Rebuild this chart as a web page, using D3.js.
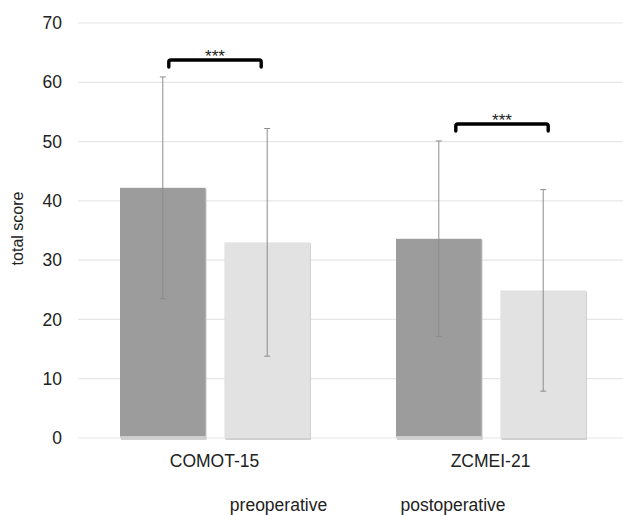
<!DOCTYPE html>
<html>
<head>
<meta charset="utf-8">
<script src="https://cdn.jsdelivr.net/npm/d3@7"></script>
<style>
  body { margin: 0; background: #fff; }
  svg text { font-family: "Liberation Sans", Arial, sans-serif; fill: #222; }
</style>
</head>
<body>
<svg id="chart" width="623" height="515"></svg>
<script>
// chart data
const categories = ["COMOT-15", "ZCMEI-21"];
const seriesNames = ["preoperative", "postoperative"];
const preMean = [42.2, 33.6];
const preSd = [18.7, 16.5];
const postMean = [33.0, 24.9];
const postSd = [19.2, 17.0];
const yTicks = [0, 10, 20, 30, 40, 50, 60, 70];
const sigLabels = ["***", "***"];

const colors = { preoperative: "#9c9c9c", postoperative: "#e2e2e2" };
const bracketShift = [0, 11];

const svg = d3.select("#chart");

const y = d3.scaleLinear().domain([0, 70]).range([438, 23]);
const x = d3.scaleBand().domain(categories).range([77, 629]);
const xSub = d3.scaleBand().domain(seriesNames).range([43, 233]).paddingInner(0.18);

const rows = categories.map((c, i) => ({
  cat: c,
  vals: [
    { s: "preoperative", m: preMean[i], sd: preSd[i] },
    { s: "postoperative", m: postMean[i], sd: postSd[i] }
  ]
}));

// grid lines
svg.append("g").selectAll("line").data(yTicks).join("line")
  .attr("x1", 78).attr("x2", 623)
  .attr("y1", d => y(d)).attr("y2", d => y(d))
  .attr("stroke", "#e6e6e6").attr("stroke-width", 1.2);

// y tick labels
svg.append("g").selectAll("text").data(yTicks).join("text")
  .attr("x", 62).attr("y", d => y(d)).attr("dy", "0.35em")
  .attr("text-anchor", "end").style("font-size", "17.5px")
  .text(d => d);

// y axis title
svg.append("text")
  .attr("transform", `translate(23,${y(35) - 2}) rotate(-90)`)
  .attr("text-anchor", "middle").style("font-size", "16px")
  .text("total score");

// bars
const groups = svg.append("g").selectAll("g").data(rows).join("g")
  .attr("transform", d => `translate(${x(d.cat)},0)`);

groups.selectAll("rect.shadow").data(d => d.vals).join("rect")
  .attr("class", "shadow")
  .attr("x", d => xSub(d.s) + 1).attr("width", xSub.bandwidth())
  .attr("y", d => y(d.m) + 1).attr("height", d => y(0) - y(d.m) + 1)
  .attr("fill", "#d0d0d0");

groups.selectAll("rect.bar").data(d => d.vals).join("rect")
  .attr("class", "bar")
  .attr("x", d => xSub(d.s)).attr("width", xSub.bandwidth())
  .attr("y", d => y(d.m)).attr("height", d => y(0) - y(d.m))
  .attr("fill", d => colors[d.s]);

groups.selectAll("line.base").data(d => d.vals.filter(v => v.s === "preoperative")).join("line")
  .attr("class", "base")
  .attr("x1", d => xSub(d.s)).attr("x2", d => xSub(d.s) + xSub.bandwidth())
  .attr("y1", y(0) - 1).attr("y2", y(0) - 1)
  .attr("stroke", "#fff").attr("stroke-width", 1);

// error bars
const err = groups.selectAll("g.err").data(d => d.vals).join("g").attr("class", "err");
err.append("line")
  .attr("x1", d => xSub(d.s) + xSub.bandwidth() / 2)
  .attr("x2", d => xSub(d.s) + xSub.bandwidth() / 2)
  .attr("y1", d => y(d.m - d.sd)).attr("y2", d => y(d.m + d.sd))
  .attr("stroke", "#8c8c8c").attr("stroke-width", 1);
["top", "bottom"].forEach(k => {
  err.append("line")
    .attr("x1", d => xSub(d.s) + xSub.bandwidth() / 2 - 3)
    .attr("x2", d => xSub(d.s) + xSub.bandwidth() / 2 + 3)
    .attr("y1", d => y(k === "top" ? d.m + d.sd : d.m - d.sd))
    .attr("y2", d => y(k === "top" ? d.m + d.sd : d.m - d.sd))
    .attr("stroke", "#8c8c8c").attr("stroke-width", 1);
});

// significance brackets
groups.each(function (d, i) {
  const g = d3.select(this);
  const top = d.vals[0].m + d.vals[0].sd;
  const yTop = y(top) - 17;
  const x1 = xSub("preoperative") + xSub.bandwidth() / 2 + 6 + bracketShift[i];
  const x2 = xSub("postoperative") + xSub.bandwidth() / 2 - 6 + bracketShift[i];
  g.append("path")
    .attr("d", `M${x1},${yTop + 7} L${x1},${yTop + 2} Q${x1},${yTop} ${x1 + 2},${yTop} L${x2 - 2},${yTop} Q${x2},${yTop} ${x2},${yTop + 2} L${x2},${yTop + 7}`)
    .attr("fill", "none").attr("stroke", "#000").attr("stroke-width", 3.4)
    .attr("stroke-linecap", "round");
  g.append("text")
    .attr("x", (x1 + x2) / 2).attr("y", yTop + 2.5)
    .attr("text-anchor", "middle").style("font-size", "17px")
    .text(sigLabels[i]);
});

// category labels
svg.append("g").selectAll("text").data(categories).join("text")
  .attr("x", d => x(d) + x.bandwidth() / 2 - 0.5).attr("y", 467)
  .attr("text-anchor", "middle").style("font-size", "17.5px")
  .text(d => d);

// legend
const legendX = d3.scaleOrdinal().domain(seriesNames).range([278.5, 453]);
svg.append("g").selectAll("text").data(seriesNames).join("text")
  .attr("x", d => legendX(d)).attr("y", 511)
  .attr("text-anchor", "middle").style("font-size", "17.5px")
  .text(d => d);
</script>
</body>
</html>
